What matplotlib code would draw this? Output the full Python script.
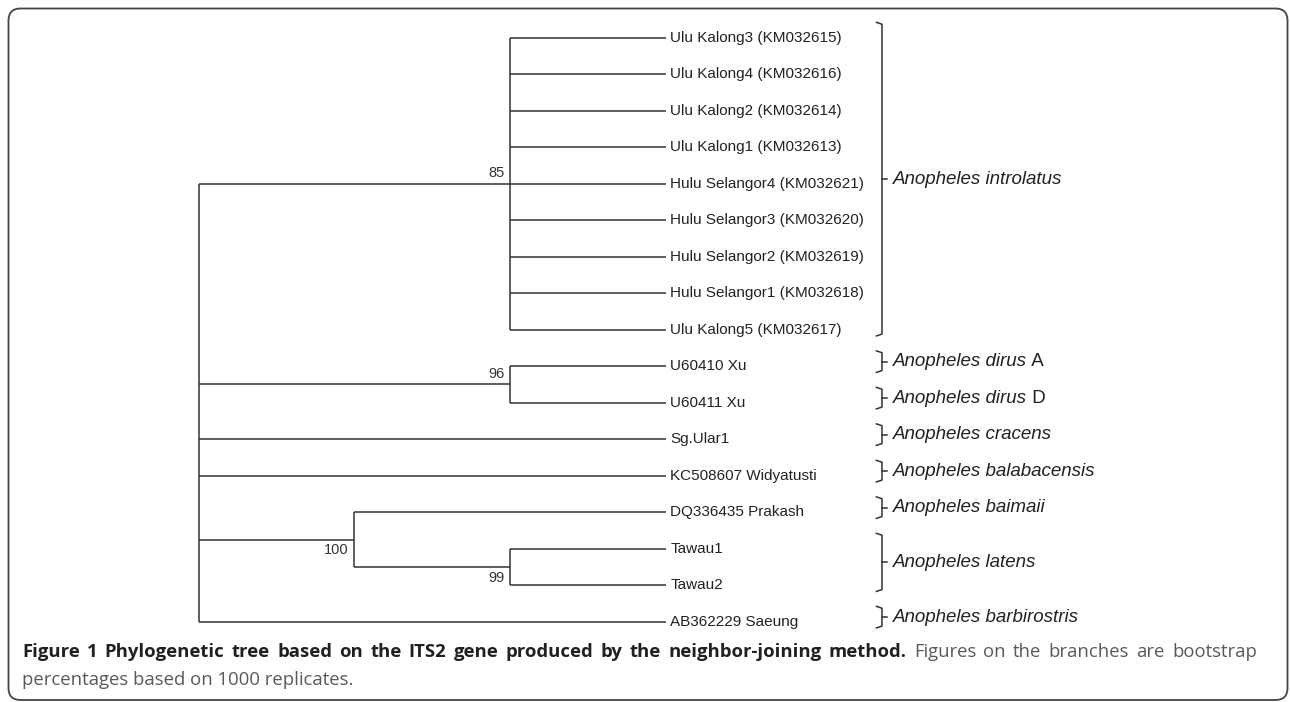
import matplotlib
matplotlib.use("Agg")
import matplotlib.pyplot as plt
from matplotlib import font_manager
from matplotlib.patches import FancyBboxPatch
from matplotlib.transforms import IdentityTransform

# leaf labels, top to bottom
leaves = ["Ulu Kalong3 (KM032615)", "Ulu Kalong4 (KM032616)", "Ulu Kalong2 (KM032614)",
          "Ulu Kalong1 (KM032613)", "Hulu Selangor4 (KM032621)", "Hulu Selangor3 (KM032620)",
          "Hulu Selangor2 (KM032619)", "Hulu Selangor1 (KM032618)", "Ulu Kalong5 (KM032617)",
          "U60410 Xu", "U60411 Xu", "Sg.Ular1", "KC508607 Widyatusti", "DQ336435 Prakash",
          "Tawau1", "Tawau2", "AB362229 Saeung"]

# internal nodes: depth (root = 0, tips = 1) and children (leaf index or node name)
node_depth = {"root": 0.0, "n85": 0.666, "n96": 0.666, "n100": 0.332, "n99": 0.666}
node_children = {"root": ["n85", "n96", 11, 12, "n100", 16],
                 "n85": [0, 1, 2, 3, 4, 5, 6, 7, 8],
                 "n96": [9, 10],
                 "n100": [13, "n99"],
                 "n99": [14, 15]}
bootstrap = {"n85": "85", "n96": "96", "n100": "100", "n99": "99"}
bootstrap_side = {"n85": "above", "n96": "above", "n100": "below", "n99": "below"}

# species groups: italic name, plain suffix, first leaf, last leaf
species = [("Anopheles introlatus", "", 0, 8),
           ("Anopheles dirus", " A", 9, 9),
           ("Anopheles dirus", " D", 10, 10),
           ("Anopheles cracens", "", 11, 11),
           ("Anopheles balabacensis", "", 12, 12),
           ("Anopheles baimaii", "", 13, 13),
           ("Anopheles latens", "", 14, 15),
           ("Anopheles barbirostris", "", 16, 16)]

cap_bold = "Figure 1 Phylogenetic tree based on the ITS2 gene produced by the neighbor-joining method."
cap_rest1 = "Figures on the branches are bootstrap"
cap_rest2 = "percentages based on 1000 replicates."

names = {f.name for f in font_manager.fontManager.ttflist}
narrow = "Liberation Sans Narrow" if "Liberation Sans Narrow" in names else "Liberation Sans"
leaf_size = 12.5 if narrow == "Liberation Sans Narrow" else 11

W, H = 1290, 702
fig = plt.figure(figsize=(W / 100, H / 100), dpi=100)
ax = fig.add_axes([0, 0, 1, 1])
ax.set_axis_off()
# px = 199 + 467*x ; py = 37.7 + 36.5*i
ax.set_xlim(-199 / 467, (W - 199) / 467)
ax.set_ylim((H - 37.7) / 36.5, -37.7 / 36.5)

lc = "#333333"
lw = 1.1

pos = {}


def node_y(n):
    if isinstance(n, int):
        return n
    if n in pos:
        return pos[n]
    ys = [node_y(c) for c in node_children[n]]
    pos[n] = (ys[0] + ys[-1]) / 2
    return pos[n]


def draw(n):
    x0 = node_depth[n]
    ys = [node_y(c) for c in node_children[n]]
    ax.plot([x0, x0], [ys[0], ys[-1]], color=lc, lw=lw, solid_capstyle="butt")
    for c in node_children[n]:
        x1 = 1.0 if isinstance(c, int) else node_depth[c]
        ax.plot([x0, x1], [node_y(c), node_y(c)], color=lc, lw=lw, solid_capstyle="butt")
        if not isinstance(c, int):
            draw(c)


draw("root")

for i, name in enumerate(leaves):
    ax.text(1.009, i, name, family=narrow, fontsize=leaf_size, color="#222222",
            va="center", ha="left")

for n, lab in bootstrap.items():
    dx = -0.011
    if bootstrap_side[n] == "above":
        ax.text(node_depth[n] + dx, node_y(n) - 0.1, lab, family=narrow, fontsize=10.5,
                color="#333333", ha="right", va="bottom")
    else:
        ax.text(node_depth[n] + dx, node_y(n) + 0.1, lab, family=narrow, fontsize=10.5,
                color="#333333", ha="right", va="top")

# species brackets
bx = 1.4625
for name, suffix, a, b in species:
    top, bot = a - 0.42, b + 0.17
    mid = (top + bot) / 2
    ax.plot([bx - 0.012, bx, bx, bx - 0.012], [top, top + 0.05, bot - 0.05, bot],
            color=lc, lw=lw)
    ax.plot([bx, bx + 0.01], [mid, mid], color=lc, lw=lw)
    t = ax.text(bx + 0.023, mid, name, family="Liberation Sans", style="italic",
                fontsize=13.5, color="#222222", va="center", ha="left")
    if suffix:
        fig.canvas.draw()
        bb = t.get_window_extent()
        xd = ax.transData.inverted().transform((bb.x1, bb.y0))[0]
        ax.text(xd, mid, suffix, family="Liberation Sans", fontsize=13.5,
                color="#222222", va="center", ha="left")

# caption: first line justified between the margins
y1, y2 = 1 - 657 / H, 1 - 685 / H
cap_fs = 13.3
fig.canvas.draw()
r = fig.canvas.get_renderer()
line1 = [(w, True) for w in cap_bold.split()] + [(w, False) for w in cap_rest1.split()]
wts = []
for w, bold in line1:
    tw = fig.text(0, y1, w, family="Open Sans", fontsize=cap_fs,
                  weight="bold" if bold else "normal",
                  color="#231f20" if bold else "#58595b", va="baseline", ha="left")
    wts.append(tw)
widths = [tw.get_window_extent(r).width for tw in wts]
x_start, x_end = 22, 1257
gap = (x_end - x_start - sum(widths)) / (len(wts) - 1)
x = x_start
for tw, wd in zip(wts, widths):
    tw.set_x(x / W)
    x += wd + gap
fig.text(x_start / W, y2, cap_rest2, family="Open Sans", fontsize=cap_fs,
         color="#58595b", va="baseline", ha="left")

# rounded frame around the figure
frame = FancyBboxPatch((8.5, 2), 1279, 691.5, boxstyle="round,pad=0,rounding_size=12",
                       transform=IdentityTransform(), fill=False, ec="#444444", lw=1.3)
fig.patches.append(frame)

fig.savefig("out.png", dpi=100)
